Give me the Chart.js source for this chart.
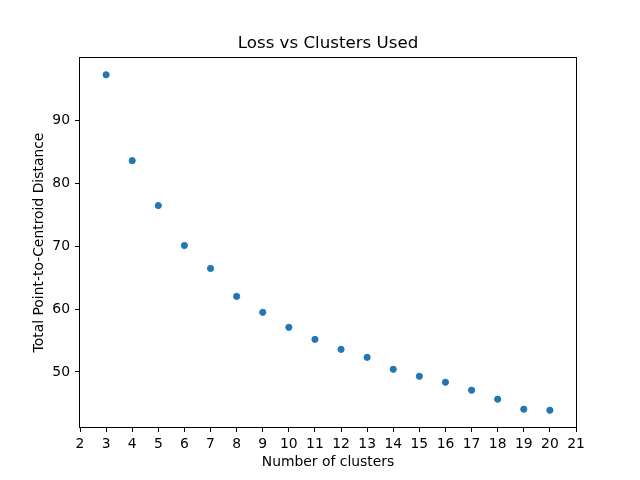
<!DOCTYPE html>
<html>
<head>
<meta charset="utf-8">
<script src="https://cdn.jsdelivr.net/npm/chart.js@4"></script>
<style>
  html, body { margin: 0; padding: 0; background: #ffffff; }
  canvas { display: block; }
</style>
</head>
<body>
<canvas id="c" width="640" height="480"></canvas>
<script>
const clusters = [3, 4, 5, 6, 7, 8, 9, 10, 11, 12, 13, 14, 15, 16, 17, 18, 19, 20];
const loss = [97.25, 83.6, 76.46, 70.11, 66.46, 62.02, 59.48, 57.10, 55.19, 53.60, 52.33, 50.43, 49.32, 48.37, 47.10, 45.67, 44.08, 43.92];
const xTicks = [2, 3, 4, 5, 6, 7, 8, 9, 10, 11, 12, 13, 14, 15, 16, 17, 18, 19, 20, 21];
const yTicks = [50, 60, 70, 80, 90];
const titleText = 'Loss vs Clusters Used';
const xLabel = 'Number of clusters';
const yLabel = 'Total Point-to-Centroid Distance';

const yMinData = Math.min(...loss), yMaxData = Math.max(...loss);
const yPad = (yMaxData - yMinData) * 0.05;

const FONT = 'DejaVu Sans';
const tickFont = { family: FONT, size: 13.9 };

const frame = {
  id: 'frame',
  afterDatasetsDraw(chart) {
    const a = chart.chartArea, ctx = chart.ctx;
    ctx.save();
    ctx.strokeStyle = '#000';
    ctx.lineWidth = 1;
    ctx.strokeRect(Math.round(a.left) - 0.5, Math.round(a.top) - 0.5,
                   Math.round(a.right - a.left) + 1, Math.round(a.bottom - a.top) + 1);
    ctx.restore();
  }
};

new Chart(document.getElementById('c'), {
  type: 'scatter',
  data: {
    datasets: [{
      data: clusters.map((x, i) => ({ x: x, y: loss[i] })),
      backgroundColor: '#1f77b4',
      borderColor: '#1f77b4',
      borderWidth: 1,
      pointRadius: 3.1,
      pointHoverRadius: 3.1
    }]
  },
  options: {
    responsive: false,
    animation: false,
    events: [],
    layout: { padding: { left: 0, right: 64, top: 0, bottom: 0 } },
    plugins: {
      legend: { display: false },
      tooltip: { enabled: false },
      title: { display: false }
    },
    scales: {
      x: {
        type: 'linear',
        position: 'bottom',
        min: xTicks[0],
        max: xTicks[xTicks.length - 1],
        afterBuildTicks: (s) => { s.ticks = xTicks.map(v => ({ value: v })); },
        afterFit: (s) => { s.height = 53; },
        grid: { drawOnChartArea: false, drawTicks: true, tickLength: 5, color: '#000', lineWidth: 1 },
        border: { display: false },
        ticks: { color: '#000', font: tickFont, padding: 4, maxRotation: 0, autoSkip: false },
        title: { display: true, text: xLabel, color: '#000', font: { family: FONT, size: 13.9, lineHeight: 1.2 }, padding: { top: 0, bottom: 9.7 } }
      },
      xTop: {
        type: 'linear',
        position: 'top',
        min: xTicks[0],
        max: xTicks[xTicks.length - 1],
        afterBuildTicks: (s) => { s.ticks = []; },
        afterFit: (s) => { s.height = 58; },
        grid: { display: false, drawTicks: false },
        border: { display: false },
        ticks: { display: false },
        title: { display: true, text: titleText, color: '#000', font: { family: FONT, size: 16.67, weight: 'normal', lineHeight: 1.2 }, padding: { top: 33.2, bottom: 0 } }
      },
      y: {
        type: 'linear',
        min: yMinData - yPad,
        max: yMaxData + yPad,
        afterBuildTicks: (s) => { s.ticks = yTicks.map(v => ({ value: v })); },
        afterFit: (s) => { s.width = 80; },
        grid: { drawOnChartArea: false, drawTicks: true, tickLength: 5, color: '#000', lineWidth: 1 },
        border: { display: false },
        ticks: { color: '#000', font: tickFont, padding: 5 },
        title: { display: true, text: yLabel, color: '#000', font: { family: FONT, size: 13.9, lineHeight: 1.2 }, padding: { top: 31.3, bottom: 0 } }
      }
    }
  },
  plugins: [frame]
});
</script>
</body>
</html>
